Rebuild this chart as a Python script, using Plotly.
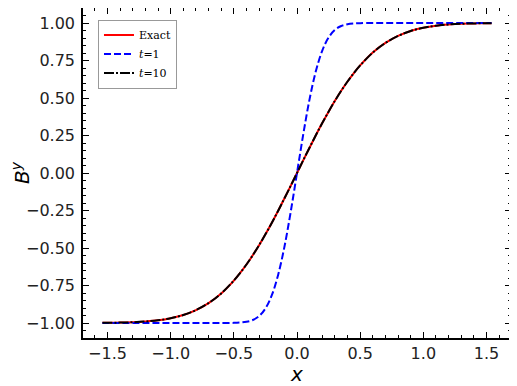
import plotly.graph_objects as go

# sample positions along x
x = [-1.54, -1.5, -1.4, -1.3, -1.2, -1.1, -1.0, -0.9, -0.8, -0.7, -0.6,
     -0.5, -0.45, -0.4, -0.35, -0.3, -0.25, -0.2, -0.15, -0.1, -0.05,
     0.0, 0.05, 0.1, 0.15, 0.2, 0.25, 0.3, 0.35, 0.4, 0.45, 0.5,
     0.6, 0.7, 0.8, 0.9, 1.0, 1.1, 1.2, 1.3, 1.4, 1.5, 1.54]

# exact solution (right half, mirrored for the left)
exact_half = [0.0, 0.086, 0.170, 0.253, 0.333, 0.409, 0.481, 0.548, 0.610, 0.666,
              0.717, 0.803, 0.867, 0.914, 0.947, 0.968, 0.982, 0.990, 0.995,
              0.997, 0.999, 0.999]
# t = 1
t1_half = [0.0, 0.260, 0.494, 0.681, 0.816, 0.903, 0.954, 0.980, 0.992, 0.997,
           0.999, 1.0, 1.0, 1.0, 1.0, 1.0, 1.0, 1.0, 1.0, 1.0, 1.0, 1.0]
# t = 10
t10_half = [0.0, 0.086, 0.170, 0.253, 0.333, 0.409, 0.481, 0.548, 0.610, 0.666,
            0.717, 0.803, 0.867, 0.914, 0.947, 0.968, 0.982, 0.990, 0.995,
            0.997, 0.999, 0.999]


def full(half):
    return [-v for v in half[:0:-1]] + half


exact = full(exact_half)
t1 = full(t1_half)
t10 = full(t10_half)

fig = go.Figure()
fig.add_trace(go.Scatter(x=x, y=exact, mode='lines', name='Exact',
                         line=dict(color='red', width=2, shape='spline')))
fig.add_trace(go.Scatter(x=x, y=t1, mode='lines', name='<i>t</i>=1',
                         line=dict(color='blue', width=2, dash='7px,3px',
                                   shape='spline')))
fig.add_trace(go.Scatter(x=x, y=t10, mode='lines', name='<i>t</i>=10',
                         line=dict(color='black', width=2,
                                   dash='10px,2px,2px,2px', shape='spline')))

axis_style = dict(
    showline=True, linecolor='black', linewidth=1.5, mirror='allticks',
    ticks='inside', ticklen=6, tickwidth=1.2, tickcolor='black',
    showgrid=False, zeroline=False, automargin=False,
    tickfont=dict(family='DejaVu Sans', size=16, color='#222222'),
    minor=dict(ticks='inside', ticklen=3, tickwidth=1, tickcolor='black'),
)

fig.update_xaxes(axis_style, range=[-1.694, 1.694], tickmode='array',
                 tickvals=[-1.5, -1.0, -0.5, 0.0, 0.5, 1.0, 1.5],
                 ticktext=['\u22121.5', '\u22121.0', '\u22120.5', '0.0', '0.5', '1.0', '1.5'],
                 minor_dtick=0.1, ticklabelstandoff=0,
                 title=dict(text='<i>x</i>', standoff=3,
                            font=dict(family='DejaVu Sans', size=20, color='black')))
fig.update_yaxes(axis_style, range=[-1.1, 1.1], tickmode='array',
                 tickvals=[-1.0, -0.75, -0.5, -0.25, 0.0, 0.25, 0.5, 0.75, 1.0],
                 ticktext=['\u22121.00', '\u22120.75', '\u22120.50', '\u22120.25', '0.00',
                           '0.25', '0.50', '0.75', '1.00'],
                 minor_dtick=0.05, ticklabelstandoff=3,
                 title=dict(text='<i>B</i><sup><i>y</i></sup>', standoff=8,
                            font=dict(family='DejaVu Sans', size=20, color='black')))

# the page adds an 8px body margin, so the figure is sized to fit inside it
fig.update_layout(
    width=509, height=378,
    margin=dict(l=75, r=6, t=0, b=48),
    plot_bgcolor='white', paper_bgcolor='white',
    legend=dict(x=0.035, y=0.965, xanchor='left', yanchor='top',
                bgcolor='white', bordercolor='#999999', borderwidth=1,
                font=dict(family='DejaVu Serif', size=11, color='black'),
                tracegroupgap=0, itemwidth=30),
    showlegend=True,
)

fig.write_html("out.html")
